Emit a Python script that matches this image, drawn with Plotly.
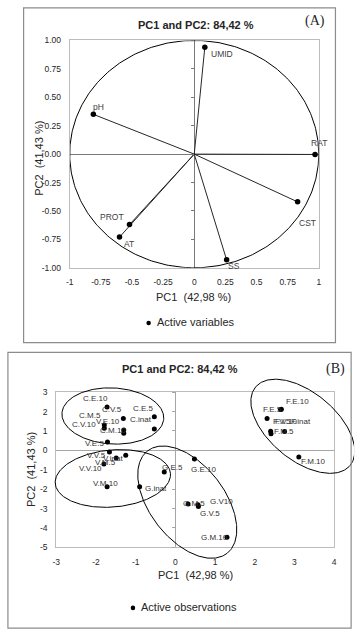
import numpy as np
import plotly.graph_objects as go

W, H = 361, 637

# ---------------- Panel (A): active variables (correlation circle) ----------------
var_names = ["UMID", "pH", "RAT", "CST", "SS", "PROT", "AT"]
var_pc1 = [0.085, -0.81, 0.97, 0.83, 0.26, -0.52, -0.60]
var_pc2 = [0.94, 0.35, -0.003, -0.42, -0.93, -0.62, -0.73]

a_xticks = [-1, -0.75, -0.5, -0.25, 0, 0.25, 0.5, 0.75, 1]
a_xtext = ["-1", "-0.75", "-0.5", "-0.25", "0", "0.25", "0.5", "0.75", "1"]
a_yticks = [-1, -0.75, -0.5, -0.25, 0, 0.25, 0.5, 0.75, 1]
a_ytext = ["-1.00", "-0.75", "-0.50", "-0.25", "0.00", "0.25", "0.50", "0.75", "1.00"]

# ---------------- Panel (B): active observations ----------------
obs_names = ["C.E.10", "C.V.5", "C.M.5", "C.V.10", "V.E.10", "C.M.10", "C.E.5", "C.inat",
             "V.E.5", "V.V.5", "V.M.5", "V.inat", "V.V.10", "V.M.10",
             "G.E.5", "G.inat", "G.E.10", "G.M.5", "G.V10", "G.V.5", "G.M.10",
             "F.E.10", "F.E.5", "F.V.5", "F.V.10", "F.inat", "F.M.5", "F.M.10"]
obs_pc1 = [-1.72, -1.31, -1.79, -1.79, -1.30, -1.30, -0.53, -0.53,
           -1.71, -1.66, -1.49, -1.25, -1.80, -1.72,
           -0.28, -0.90, 0.48, 0.32, 0.57, 0.58, 1.30,
           2.67, 2.65, 2.31, 2.40, 2.75, 2.41, 3.11]
obs_pc2 = [2.23, 1.64, 1.30, 1.14, 1.05, 0.88, 1.73, 1.10,
           0.43, -0.08, -0.40, -0.25, -0.71, -1.88,
           -1.11, -1.88, -0.45, -2.76, -2.81, -2.89, -4.48,
           2.12, 2.10, 1.64, 0.98, 0.97, 0.86, -0.34]

# group ellipses (centre in PC units, semi-axes in PC1 units, on-screen tilt in degrees)
ell_groups = ["C", "V", "G", "F"]
ell_cx = [-1.575, -1.575, 0.30, 3.21]
ell_cy = [1.77, -1.45, -2.67, 1.24]
ell_a = [1.284, 1.457, 1.63, 1.545]
ell_b = [0.704, 0.716, 0.94, 0.85]
ell_angle = [-3, 5, -52, -39.5]

b_xticks = [-3, -2, -1, 0, 1, 2, 3, 4]
b_xtext = ["-3", "-2", "-1", "0", "1", "2", "3", "4"]
b_yticks = [-5, -4, -3, -2, -1, 0, 1, 2, 3]
b_ytext = ["-5", "-4", "-3", "-2", "-1", "0", "1", "2", "3"]

# ---------------- layout geometry (pixels) ----------------
A_BOX = (20, 338, 3, 343)          # left, right, top, bottom
A_PLOT = (67, 321, 36, 267)
B_BOX = (4, 354, 353, 633)
B_PLOT = (53.3, 336.7, 393.3, 551)
A_XR, A_YR = [-1, 1], [-1, 1]
B_XR, B_YR = [-3, 4], [-5, 3]

# label offsets (pixels, dx right, dy down) of label centre from its point
var_off = {"UMID": (17, 7), "pH": (5, -7), "RAT": (4, -11), "CST": (10, 21),
           "SS": (7, 6), "PROT": (-17, -8), "AT": (9, 7)}
obs_off = {"C.E.10": (-12, -8.5), "C.V.5": (-11.7, -9), "C.M.5": (-14.3, -9.7),
           "C.V.10": (-20.3, -4), "V.E.10": (-15.3, -8.7), "C.M.10": (-10.3, -3),
           "C.E.5": (-11.3, -8.3), "C.inat": (-13, -9),
           "V.E.5": (-13, 1.5), "V.V.5": (-12.7, 4), "V.M.5": (-11, 4.4),
           "V.inat": (-12.3, 3.2), "V.V.10": (-13.4, 4), "V.M.10": (-2, -3.5),
           "G.E.5": (8.4, -4.3), "G.inat": (16.3, 1.6), "G.E.10": (9, 10.7),
           "G.M.5": (6.3, 0), "G.V10": (24, -3.7), "G.V.5": (11.7, 6.7), "G.M.10": (-12.3, 0.3),
           "F.E.10": (16, -8), "F.E.5": (-8, 0), "F.V.5": (14.5, 3.3), "F.V.10": (15.5, -9.7),
           "F.inat": (16, -10), "F.M.5": (12.7, -2), "F.M.10": (14.3, 5)}


def xp(px):
    return px / W


def yp(py):
    return 1 - py / H


FONT = "Liberation Sans, Arial, sans-serif"
TXT = "#262626"

fig = go.Figure()

# ---- Panel A traces ----
th = np.linspace(0, 2 * np.pi, 361)
fig.add_trace(go.Scatter(x=np.cos(th), y=np.sin(th), mode="lines",
                         line=dict(color="#000000", width=1), hoverinfo="skip",
                         showlegend=False, xaxis="x", yaxis="y"))
vx, vy = [], []
for a, b in zip(var_pc1, var_pc2):
    vx += [0, a, None]
    vy += [0, b, None]
fig.add_trace(go.Scatter(x=vx, y=vy, mode="lines", line=dict(color="#262626", width=1),
                         hoverinfo="skip", showlegend=False, xaxis="x", yaxis="y"))
fig.add_trace(go.Scatter(x=var_pc1, y=var_pc2, mode="markers", text=var_names,
                         marker=dict(color="#000000", size=5.5), showlegend=False,
                         xaxis="x", yaxis="y", cliponaxis=False))
fig.add_trace(go.Scatter(x=[None], y=[None], xaxis="x", yaxis="y3", showlegend=False))

# ---- Panel B traces ----
kx = (B_PLOT[1] - B_PLOT[0]) / (B_XR[1] - B_XR[0])
ky = (B_PLOT[3] - B_PLOT[2]) / (B_YR[1] - B_YR[0])
t = np.linspace(0, 2 * np.pi, 300)
for cx, cy, ea, eb, ang in zip(ell_cx, ell_cy, ell_a, ell_b, ell_angle):
    r = np.radians(ang)
    ox = ea * np.cos(t) * np.cos(r) - eb * np.sin(t) * np.sin(r)
    oy = ea * np.cos(t) * np.sin(r) + eb * np.sin(t) * np.cos(r)
    fig.add_trace(go.Scatter(x=cx + ox, y=cy + oy * kx / ky, mode="lines",
                             line=dict(color="#000000", width=1), hoverinfo="skip",
                             showlegend=False, xaxis="x5", yaxis="y5"))
fig.add_trace(go.Scatter(x=obs_pc1, y=obs_pc2, mode="markers", text=obs_names,
                         marker=dict(color="#000000", size=5), showlegend=False,
                         xaxis="x2", yaxis="y2", cliponaxis=False))
fig.add_trace(go.Scatter(x=[None], y=[None], xaxis="x2", yaxis="y4", showlegend=False))

# overlay axes covering the B frame, for ellipses that run past the plot area
OV = (B_BOX[0] + 1, 357, B_BOX[2] + 1, B_BOX[3] - 1)
x5r = [B_XR[0] + (OV[0] - B_PLOT[0]) / kx, B_XR[0] + (OV[1] - B_PLOT[0]) / kx]
y5r = [B_YR[0] - (OV[3] - B_PLOT[3]) / ky, B_YR[1] + (B_PLOT[2] - OV[2]) / ky]

tickfont = dict(family=FONT, size=8.5, color=TXT)


def axis_common():
    return dict(showgrid=False, showline=True, mirror=True, linecolor="#bcbcbc",
                linewidth=1, ticks="", tickfont=tickfont, fixedrange=True)


a_zero_px = A_PLOT[0] + (0 - A_XR[0]) / (A_XR[1] - A_XR[0]) * (A_PLOT[1] - A_PLOT[0])
b_zero_px = B_PLOT[0] + (0 - B_XR[0]) / (B_XR[1] - B_XR[0]) * (B_PLOT[1] - B_PLOT[0])

layout = dict(
    width=W, height=H, margin=dict(l=0, r=0, t=0, b=0),
    paper_bgcolor="white", plot_bgcolor="rgba(0,0,0,0)", showlegend=False,
    xaxis=dict(domain=[xp(A_PLOT[0]), xp(A_PLOT[1])], range=A_XR, anchor="y",
               tickvals=a_xticks, ticktext=a_xtext, zeroline=True,
               zerolinecolor="#7a7a7a", zerolinewidth=1, ticklabelstandoff=6, **axis_common()),
    yaxis=dict(domain=[yp(A_PLOT[3]), yp(A_PLOT[2])], range=A_YR, anchor="x",
               tickvals=a_yticks, ticktext=a_ytext, zeroline=True,
               zerolinecolor="#7a7a7a", zerolinewidth=1, ticklabelstandoff=6, **axis_common()),
    yaxis3=dict(overlaying="y", anchor="free", position=xp(a_zero_px), range=A_YR,
                tickvals=a_yticks, ticks="outside", ticklen=3, tickcolor="#7a7a7a",
                showticklabels=False, showline=False, showgrid=False, zeroline=False,
                fixedrange=True),
    xaxis2=dict(domain=[xp(B_PLOT[0]), xp(B_PLOT[1])], range=B_XR, anchor="y2",
                tickvals=b_xticks, ticktext=b_xtext, zeroline=True,
                zerolinecolor="#a6a6a6", zerolinewidth=1, ticklabelstandoff=6, **axis_common()),
    yaxis2=dict(domain=[yp(B_PLOT[3]), yp(B_PLOT[2])], range=B_YR, anchor="x2",
                tickvals=b_yticks, ticktext=b_ytext, zeroline=True,
                zerolinecolor="#a6a6a6", zerolinewidth=1, ticklabelstandoff=6, **axis_common()),
    yaxis4=dict(overlaying="y2", anchor="free", position=xp(b_zero_px), range=B_YR,
                tickvals=b_yticks, ticks="outside", ticklen=3, tickcolor="#a6a6a6",
                showticklabels=False, showline=False, showgrid=False, zeroline=False,
                fixedrange=True),
    xaxis5=dict(domain=[xp(OV[0]), xp(OV[1])], range=x5r, anchor="y5", visible=False,
                fixedrange=True),
    yaxis5=dict(domain=[yp(OV[3]), yp(OV[2])], range=y5r, anchor="x5", visible=False,
                fixedrange=True),
)
fig.update_layout(**layout)

# panel frames
for (l, r, tp, bt) in (A_BOX, B_BOX):
    fig.add_shape(type="rect", xref="paper", yref="paper", x0=xp(l), x1=xp(r),
                  y0=yp(bt), y1=yp(tp), line=dict(color="#8c8c8c", width=1.2))

ann = []
# point labels
for n, a, b in zip(var_names, var_pc1, var_pc2):
    dx, dy = var_off[n]
    ann.append(dict(x=a, y=b, xref="x", yref="y", text=n, showarrow=False,
                    xshift=dx, yshift=-dy, font=dict(family=FONT, size=8.5, color="#404040")))
for n, a, b in zip(obs_names, obs_pc1, obs_pc2):
    dx, dy = obs_off[n]
    ann.append(dict(x=a, y=b, xref="x2", yref="y2", text=n, showarrow=False,
                    xshift=dx, yshift=-dy, font=dict(family=FONT, size=8, color="#333333")))


def paper_text(px, py, text, size=11, bold=False, family=FONT, angle=0, xanchor="center"):
    ann.append(dict(x=xp(px), y=yp(py), xref="paper", yref="paper",
                    text=f"<b>{text}</b>" if bold else text, showarrow=False,
                    textangle=angle, xanchor=xanchor, yanchor="middle",
                    font=dict(family=family, size=size, color=TXT)))


paper_text(196, 20, "PC1 and PC2: 84,42 %", size=11, bold=True)
paper_text(179, 370, "PC1 and PC2: 84,42 %", size=11, bold=True)
paper_text(317.5, 16, "(A)", size=14, family="Liberation Serif, Times New Roman, serif")
paper_text(338, 370, "(B)", size=14, family="Liberation Serif, Times New Roman, serif")
paper_text(193, 297, "PC1  (42,98 %)")
paper_text(35, 156, "PC2  (41,43 %)", angle=-90)
paper_text(195, 579, "PC1  (42,98 %)")
paper_text(27, 472, "PC2  (41,43 %)", angle=-90)
paper_text(154, 322.5, "Active variables", xanchor="left")
paper_text(137.5, 612, "Active observations", xanchor="left")
fig.update_layout(annotations=ann)

# legend dots
for cxp, cyp in ((147.5, 323), (131.5, 612.5)):
    fig.add_shape(type="circle", xref="paper", yref="paper", x0=xp(cxp - 2.3), x1=xp(cxp + 2.3),
                  y0=yp(cyp + 2.3), y1=yp(cyp - 2.3), fillcolor="#000000",
                  line=dict(color="#000000", width=0))

fig.write_html("out.html", config={"displayModeBar": False},
               post_script="document.body.style.margin='0';document.body.style.overflow='hidden';")
